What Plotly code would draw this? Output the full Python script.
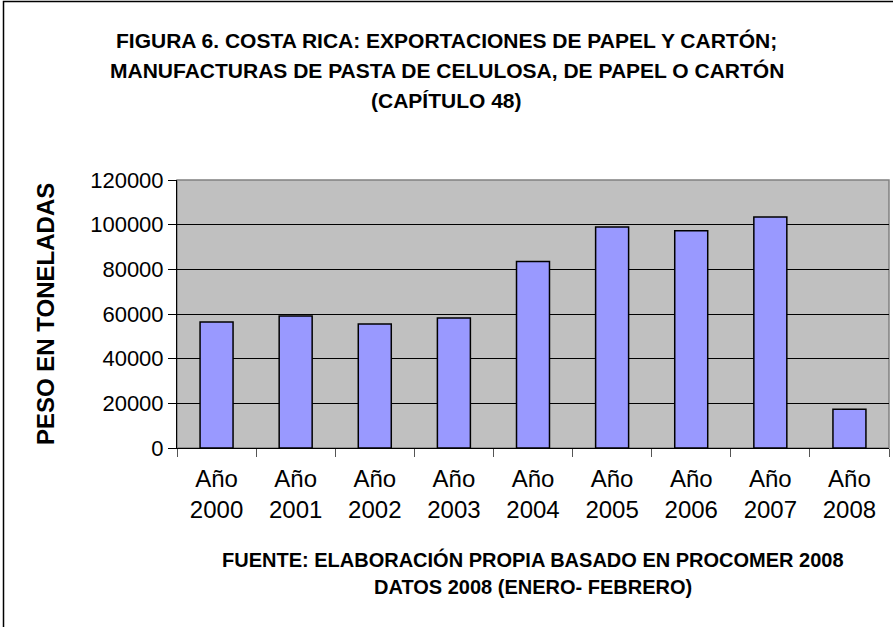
import plotly.graph_objects as go

# Datos (peso en toneladas)
anios = ["Año<br>2000", "Año<br>2001", "Año<br>2002", "Año<br>2003", "Año<br>2004",
         "Año<br>2005", "Año<br>2006", "Año<br>2007", "Año<br>2008"]
peso = [56400, 59100, 55500, 58200, 83500, 98900, 97300, 103400, 17300]
ticks_y = [0, 20000, 40000, 60000, 80000, 100000, 120000]

titulo = ["FIGURA 6. COSTA RICA: EXPORTACIONES DE PAPEL Y CARTÓN;",
          "MANUFACTURAS DE PASTA DE CELULOSA, DE PAPEL O CARTÓN",
          "(CAPÍTULO 48)"]
fuente = ["FUENTE: ELABORACIÓN PROPIA BASADO EN PROCOMER 2008",
          "DATOS 2008 (ENERO- FEBRERO)"]

W, H = 893, 627
L, R, T, B = 177, 4, 180, 179
pw, ph = W - L - R, H - T - B


def px_x(x):
    return (x - L) / pw


def px_y(y):
    return (H - B - y) / ph


fig = go.Figure()
fig.add_trace(go.Bar(x=anios, y=peso, marker_color="#9999ff",
                     marker_line=dict(color="black", width=1.5)))

annotations = []
for txt, yy in zip(titulo, [40.5, 70.5, 100.5]):
    annotations.append(dict(text="<b>%s</b>" % txt, x=px_x(446.5), y=px_y(yy),
                            xref="paper", yref="paper", showarrow=False,
                            xanchor="center", yanchor="middle",
                            font=dict(size=21, color="black")))
for txt, yy in zip(fuente, [559, 587]):
    annotations.append(dict(text="<b>%s</b>" % txt, x=0.5, y=px_y(yy),
                            xref="paper", yref="paper", showarrow=False,
                            xanchor="center", yanchor="middle",
                            font=dict(size=20, color="black")))
annotations.append(dict(text="<b>PESO EN TONELADAS</b>", x=px_x(45), y=0.5,
                        xref="paper", yref="paper", showarrow=False, textangle=-90,
                        xanchor="center", yanchor="middle",
                        font=dict(size=24, color="black")))

fig.update_layout(
    width=W, height=H,
    margin=dict(l=L, r=R, t=T, b=B),
    paper_bgcolor="white", plot_bgcolor="#c0c0c0",
    font=dict(family="Liberation Sans, Arial, sans-serif", color="black"),
    bargap=0.583, showlegend=False,
    annotations=annotations,
    shapes=[
        dict(type="rect", xref="paper", yref="paper", x0=0, x1=1, y0=0, y1=1,
             line=dict(color="#808080", width=1.5), layer="below"),
        dict(type="rect", xref="paper", yref="paper", x0=px_x(3.5), x1=1.2,
             y0=-1, y1=px_y(1.5), line=dict(color="black", width=1.5)),
    ],
)
fig.update_xaxes(type="category", showgrid=False, showline=True, linecolor="black",
                 linewidth=1, ticks="outside", tickson="boundaries", ticklen=8,
                 tickcolor="#555555", tickfont=dict(size=24), ticklabelstandoff=9)
fig.update_yaxes(range=[0, 120000], tickvals=ticks_y, tickformat="d",
                 showgrid=True, gridcolor="black", gridwidth=1, zeroline=False,
                 showline=True, linecolor="black", linewidth=1, ticks="outside",
                 ticklen=8, tickcolor="black", tickfont=dict(size=22))

fig.write_html("out.html", config={"displayModeBar": False},
               post_script="document.body.style.margin='0';document.body.style.overflow='hidden';")
